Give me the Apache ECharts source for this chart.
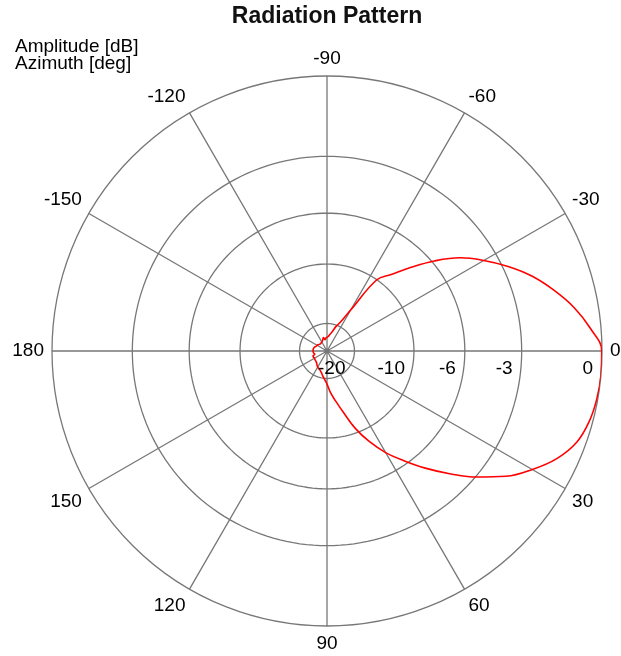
<!DOCTYPE html>
<html>
<head>
<meta charset="utf-8">
<script src="https://cdn.jsdelivr.net/npm/echarts@6/dist/echarts.min.js"></script>
<style>
  html, body { margin: 0; padding: 0; background: #fff; }
  #chart { width: 621px; height: 656px; }
</style>
</head>
<body>
<div id="chart"></div>
<script>
// ---- data ----
const azimuthDeg = [
  -180, -175, -170, -165, -160, -155, -150, -145, -140, -135, -130, -125,
  -120, -115, -110, -105, -100, -95, -90, -85, -80, -75, -70, -65,
  -60, -55, -50, -45, -40, -35, -30, -25, -20, -15, -10, -5,
  0, 5, 10, 15, 20, 25, 30, 35, 40, 45, 50, 55,
  60, 65, 70, 75, 80, 85, 90, 95, 100, 105, 110, 115,
  120, 125, 130, 135, 140, 145, 150, 155, 160, 165, 170, 175, 180
];
const amplitudeDb = [
  -25.9, -25.9, -26.0, -26.3, -26.8, -27.4, -27.6, -28.0, -28.5, -29.0, -29.0, -28.8,
  -28.5, -28.0, -27.0, -25.9, -27.5, -26.5, -26.0, -25.5, -24.2, -22.8, -20.5, -18.7,
  -15.3, -10.0, -8.8, -7.35, -5.86, -4.57, -3.63, -2.77, -2.0, -1.37, -0.8, -0.35,
  -0.01, 0.0, -0.03, -0.11, -0.29, -0.69, -1.29, -2.0, -2.94, -4.0, -5.1, -6.25,
  -7.4, -8.8, -10.5, -12.7, -14.6, -16.3, -18.4, -19.7, -20.8, -21.9, -22.6, -23.0,
  -23.4, -24.0, -24.7, -25.1, -25.3, -25.4, -25.6, -25.4, -25.3, -26.7, -26.3, -26.0, -25.9
];
const ringLevelsDb = [-20, -10, -6, -3, 0];
const ringLabels = ['-20', '-10', '-6', '-3', '0'];
const azimuthTickValues = [0, 30, 60, 90, 120, 150, 180, 210, 240, 270, 300, 330];
const azimuthTickLabels = ['0', '30', '60', '90', '120', '150', '180', '-150', '-120', '-90', '-60', '-30'];

// ---- helpers ----
const dbToAmp = db => Math.pow(10, db / 20);
const wrap = a => ((a % 360) + 360) % 360;
const FONT = 'Liberation Sans, Arial, sans-serif';
const GRID = '#777777';
const TEXT = '#000000';
const AMP_MAX = dbToAmp(Math.max(...ringLevelsDb));

const patternData = azimuthDeg.map((a, i) => [dbToAmp(amplitudeDb[i]), wrap(a)]);

// inner rings as series; outermost ring is the angle axis line
const ringSeries = ringLevelsDb.filter(db => dbToAmp(db) < AMP_MAX).map(db => {
  const r = dbToAmp(db);
  const pts = [];
  for (let a = 0; a <= 360; a += 2) pts.push([r, a]);
  return {
    type: 'line', coordinateSystem: 'polar', data: pts,
    showSymbol: false, symbol: 'none', silent: true, smooth: false,
    lineStyle: { color: GRID, width: 1.3 }, z: 1
  };
});

const chart = echarts.init(document.getElementById('chart'), null, { renderer: 'canvas' });
chart.setOption({
  animation: false,
  backgroundColor: '#ffffff',
  title: [
    {
      text: 'Radiation Pattern',
      left: 322, top: 0, textAlign: 'center',
      padding: 5,
      textStyle: { fontFamily: FONT, fontSize: 23, fontWeight: 'bold', color: '#111' }
    },
    {
      text: 'Amplitude [dB]\nAzimuth [deg]',
      left: 10, top: 33,
      padding: 5,
      textStyle: { fontFamily: FONT, fontSize: 19, fontWeight: 'normal', color: TEXT, lineHeight: 17 }
    }
  ],
  polar: { center: [327, 351], radius: 275 },
  radiusAxis: {
    type: 'value', min: 0, max: AMP_MAX,
    axisLine: { show: false }, axisTick: { show: false },
    axisLabel: { show: false }, splitLine: { show: false }
  },
  angleAxis: {
    type: 'value', min: 0, max: 360, interval: 30,
    startAngle: 0, clockwise: true,
    axisLine: { show: true, lineStyle: { color: GRID, width: 1.3 } },
    axisTick: { show: false },
    axisLabel: {
      margin: 8, fontFamily: FONT, fontSize: 19, color: TEXT,
      formatter: v => {
        const i = azimuthTickValues.indexOf(v);
        return i >= 0 ? azimuthTickLabels[i] : '';
      }
    },
    splitLine: { show: true, lineStyle: { color: GRID, width: 1.3 } }
  },
  series: [
    ...ringSeries,
    {
      type: 'line', coordinateSystem: 'polar', data: patternData,
      showSymbol: false, symbol: 'none', smooth: 0.4, silent: true,
      lineStyle: { color: '#ff0000', width: 1.6 }, z: 3
    },
    {
      type: 'scatter', coordinateSystem: 'polar',
      data: ringLevelsDb.map(db => [dbToAmp(db), 0]),
      symbolSize: 0, silent: true, z: 4,
      itemStyle: { opacity: 1 },
      label: {
        show: true, position: 'left', distance: 9, offset: [0, 18],
        fontFamily: FONT, fontSize: 19, color: TEXT, opacity: 1,
        formatter: p => ringLabels[p.dataIndex]
      }
    }
  ]
});
</script>
</body>
</html>
